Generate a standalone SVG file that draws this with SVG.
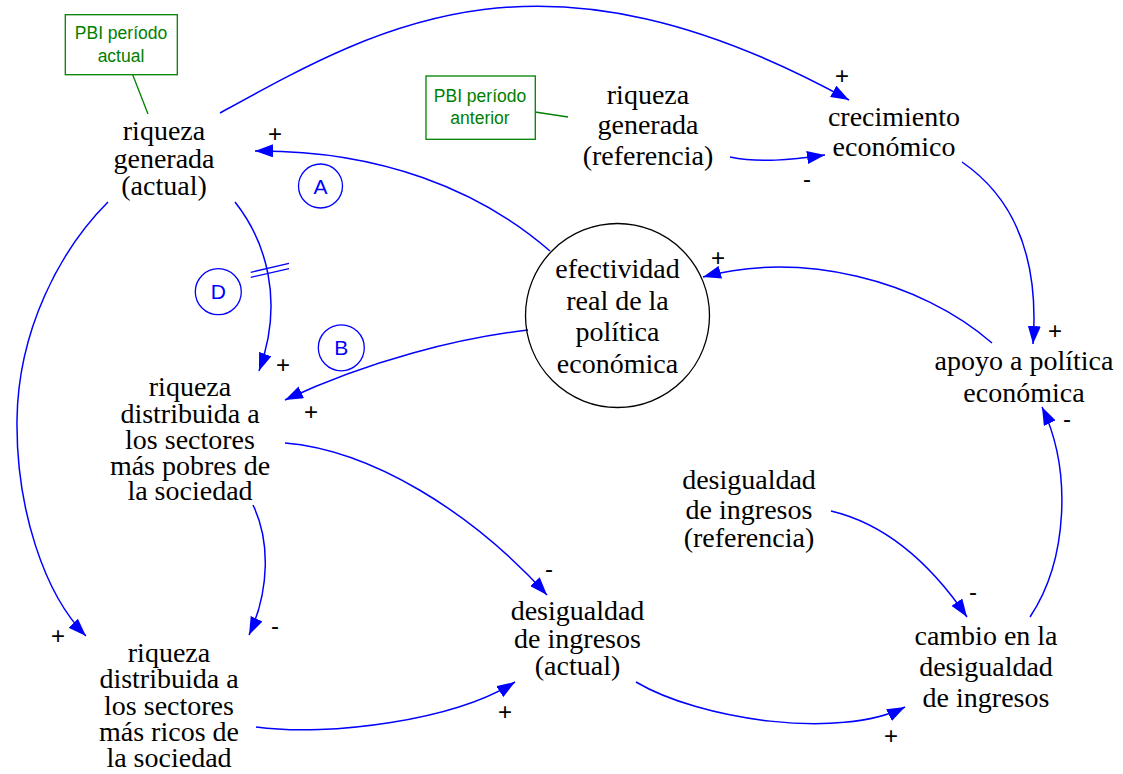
<svg xmlns="http://www.w3.org/2000/svg" width="1123" height="774" viewBox="0 0 1123 774">
<style>
.n{font-family:"Liberation Serif","Times New Roman",serif;font-size:28px;fill:#000;text-anchor:middle}
.s{font-family:"Liberation Sans",Arial,sans-serif;font-size:24px;fill:#000;text-anchor:middle}
.g{font-family:"Liberation Sans",Arial,sans-serif;font-size:17.5px;fill:#008000;text-anchor:middle}
.gb{fill:#fff;stroke:#008000;stroke-width:1.3}
.gl{stroke:#008000;stroke-width:1.3;fill:none}
.c{fill:none;stroke:#0000ff;stroke-width:1.5;marker-end:url(#ah)}
.d{fill:none;stroke:#0000ff;stroke-width:1.3}
.lp{fill:none;stroke:#0000ff;stroke-width:1.3}
.lt{font-family:"Liberation Sans",Arial,sans-serif;font-size:21px;fill:#0000ff;text-anchor:middle}
</style>
<defs>
<marker id="ah" viewBox="0 0 18 13" refX="18" refY="6.5" markerWidth="18" markerHeight="13" markerUnits="userSpaceOnUse" orient="auto">
<path d="M0,0 L18,6.5 L0,13 z" fill="#0000ff"/>
</marker>
</defs>
<rect width="1123" height="774" fill="#fff"/>

<g id="connectors">
<path class="c" d="M220,113 C380,25 542,-69 849,100"/>
<path class="c" d="M730,157 C760,163 790,160 825,155"/>
<path class="c" d="M550,251 C480,190 380,150 255,151"/>
<path class="c" d="M235,202 C265,240 285,300 259,371"/>
<path class="c" d="M528,330 C460,338 370,360 285,400"/>
<path class="c" d="M992,343 C920,280 800,250 703,277"/>
<path class="c" d="M962,162 C1010,195 1040,250 1033,344"/>
<path class="c" d="M1030,617 C1068,560 1072,470 1042,407"/>
<path class="c" d="M108,202 C60,250 18,330 17,420 C16,510 45,595 86,636"/>
<path class="c" d="M253,505 C270,540 270,590 249,635"/>
<path class="c" d="M285,443 C370,450 470,510 547,595"/>
<path class="c" d="M256,727 C330,737 455,720 515,682"/>
<path class="c" d="M636,682 C700,720 840,740 905,707"/>
<path class="c" d="M831,511 C890,525 935,570 967,617"/>
<path class="d" d="M250.7,272.3 L289,263.3 M250.7,277.3 L289,268.7"/>
<path class="gl" d="M132,73 L148,114"/>
<path class="gl" d="M535,112 L568,117"/>
</g>

<g id="polarities">
<text class="s" x="842" y="83.5">+</text>
<text class="s" x="807" y="186.5">-</text>
<text class="s" x="275" y="141.5">+</text>
<text class="s" x="283" y="372.5">+</text>
<text class="s" x="311" y="419.5">+</text>
<text class="s" x="718" y="265.5">+</text>
<text class="s" x="1055" y="338.5">+</text>
<text class="s" x="1067" y="426.5">-</text>
<text class="s" x="58" y="643.5">+</text>
<text class="s" x="275" y="633.5">-</text>
<text class="s" x="549" y="576.5">-</text>
<text class="s" x="505" y="719.5">+</text>
<text class="s" x="973" y="599.5">-</text>
<text class="s" x="891" y="743.5">+</text>
</g>

<g id="loopA"><circle class="lp" cx="320.5" cy="186" r="22"/><text class="lt" x="320.5" y="193.5">A</text></g>
<g id="loopB"><circle class="lp" cx="341.3" cy="347.8" r="23"/><text class="lt" x="341.3" y="355.3">B</text></g>
<g id="loopD"><circle class="lp" cx="218.3" cy="291.7" r="23"/><text class="lt" x="218.3" y="299.2">D</text></g>

<g id="pbi-actual">
<rect class="gb" x="65.3" y="14.7" width="112" height="60"/>
<text class="g" x="121" y="39">PBI período</text>
<text class="g" x="121" y="62">actual</text>
</g>
<g id="pbi-anterior">
<rect class="gb" x="426" y="76" width="109.3" height="63.3"/>
<text class="g" x="480" y="102">PBI período</text>
<text class="g" x="480" y="124">anterior</text>
</g>

<g id="riqueza-actual">
<text class="n" x="164" y="140">riqueza</text>
<text class="n" x="164" y="168">generada</text>
<text class="n" x="164" y="195">(actual)</text>
</g>
<g id="riqueza-referencia">
<text class="n" x="648" y="104">riqueza</text>
<text class="n" x="648" y="134">generada</text>
<text class="n" x="648" y="165">(referencia)</text>
</g>
<g id="crecimiento">
<text class="n" x="894" y="126">crecimiento</text>
<text class="n" x="894" y="156">económico</text>
</g>
<g id="efectividad">
<circle cx="617.5" cy="315.5" r="92" fill="none" stroke="#000" stroke-width="1.3"/>
<text class="n" x="617.5" y="278">efectividad</text>
<text class="n" x="617.5" y="310">real de la</text>
<text class="n" x="617.5" y="341">política</text>
<text class="n" x="617.5" y="373">económica</text>
</g>
<g id="apoyo">
<text class="n" x="1024" y="370">apoyo a política</text>
<text class="n" x="1024" y="402">económica</text>
</g>
<g id="riqueza-pobres">
<text class="n" x="190" y="396">riqueza</text>
<text class="n" x="190" y="423">distribuida a</text>
<text class="n" x="190" y="449">los sectores</text>
<text class="n" x="190" y="475">más pobres de</text>
<text class="n" x="190" y="500">la sociedad</text>
</g>
<g id="riqueza-ricos">
<text class="n" x="169" y="662">riqueza</text>
<text class="n" x="169" y="688">distribuida a</text>
<text class="n" x="169" y="715">los sectores</text>
<text class="n" x="169" y="741">más ricos de</text>
<text class="n" x="169" y="767">la sociedad</text>
</g>
<g id="desigualdad-actual">
<text class="n" x="577.5" y="620">desigualdad</text>
<text class="n" x="577.5" y="648">de ingresos</text>
<text class="n" x="577.5" y="675">(actual)</text>
</g>
<g id="desigualdad-referencia">
<text class="n" x="749" y="489">desigualdad</text>
<text class="n" x="749" y="519">de ingresos</text>
<text class="n" x="749" y="547">(referencia)</text>
</g>
<g id="cambio">
<text class="n" x="986" y="645">cambio en la</text>
<text class="n" x="986" y="676">desigualdad</text>
<text class="n" x="986" y="707">de ingresos</text>
</g>
</svg>
